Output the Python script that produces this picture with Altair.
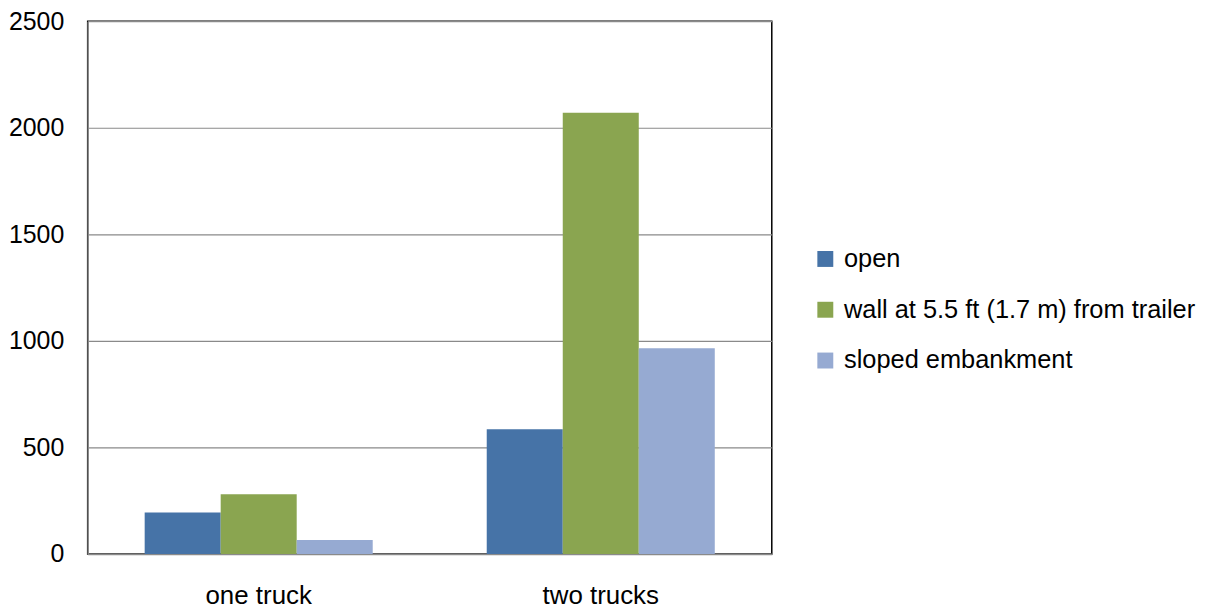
import altair as alt
import pandas as pd

groups = ["one truck", "two trucks"]
series = ["open", "wall at 5.5 ft (1.7 m) from trailer", "sloped embankment"]
colors = ["#4673A7", "#8AA550", "#96AAD2"]
values = {
    "one truck": [195, 280, 65],
    "two trucks": [585, 2070, 965],
}
y_ticks = [0, 500, 1000, 1500, 2000, 2500]

rows = []
for g in groups:
    for s, v in zip(series, values[g]):
        rows.append({"group": g, "series": s, "value": v})
df = pd.DataFrame(rows)

FONT = "Liberation Sans, Arial, sans-serif"
FS = 26

chart = alt.Chart(df).mark_bar().encode(
    x=alt.X("group:N", sort=groups, title=None,
            scale=alt.Scale(paddingInner=1/3, paddingOuter=1/6),
            axis=alt.Axis(labelAngle=0, ticks=False, labelPadding=50, labelBaseline="alphabetic",
                          labelFontSize=FS, domainColor="#8a8a8a", domainWidth=1.5, grid=False)),
    xOffset=alt.XOffset("series:N", sort=series, scale=alt.Scale(paddingInner=0, paddingOuter=0)),
    y=alt.Y("value:Q", title=None,
            scale=alt.Scale(domain=[0, 2500], nice=False),
            axis=alt.Axis(values=y_ticks, format="d", ticks=False, labelPadding=24, grid=True,
                          labelFontSize=25,
                          gridColor="#8a8a8a", gridWidth=1.2, domainColor="#8a8a8a", domainWidth=1.5)),
    color=alt.Color("series:N", sort=series,
                    scale=alt.Scale(domain=series, range=colors),
                    legend=alt.Legend(title=None, orient="none", legendX=728, legendY=226,
                                      symbolType="square", symbolSize=256, symbolStrokeWidth=0,
                                      labelFontSize=25.5, labelFont=FONT, labelColor="black",
                                      labelOffset=6, rowPadding=24, labelLimit=600)),
).properties(
    width=687, height=535,
    autosize=alt.AutoSizeParams(type="none"),
    padding={"left": 80, "top": 12, "right": 427, "bottom": 54},
).configure_view(
    stroke="black", strokeWidth=1.5
).configure_axis(
    labelFont=FONT, labelColor="black"
)

chart.save("out.html", embed_options={"renderer": "svg", "actions": False})
